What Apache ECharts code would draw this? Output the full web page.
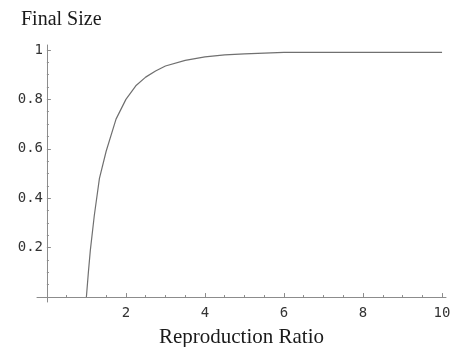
<!DOCTYPE html>
<html>
<head>
<meta charset="utf-8">
<script src="https://cdn.jsdelivr.net/npm/echarts@6/dist/echarts.min.js"></script>
<style>html,body{margin:0;padding:0;background:#fff}#c{width:454px;height:347px}</style>
</head>
<body>
<div id="c"></div>
<script>
// Data
var ratioValues = [1, 1.05, 1.1, 1.2, 1.33, 1.5, 1.75, 2, 2.25, 2.5, 2.75, 3, 3.5, 4, 4.5, 5, 6, 7, 8, 9, 10];
var finalSizeValues = [0, 0.1, 0.19, 0.33, 0.48, 0.59, 0.72, 0.80, 0.855, 0.89, 0.915, 0.935, 0.958, 0.972, 0.98, 0.984, 0.99, 0.99, 0.99, 0.99, 0.99];
var xTickLabels = [2, 4, 6, 8, 10];
var xMinorTicks = [0.5, 1, 1.5, 2.5, 3, 3.5, 4.5, 5, 5.5, 6.5, 7, 7.5, 8.5, 9, 9.5];
var yTickLabels = [0.2, 0.4, 0.6, 0.8, 1];
var yMinorTicks = [0.05, 0.1, 0.15, 0.25, 0.3, 0.35, 0.45, 0.5, 0.55, 0.65, 0.7, 0.75, 0.85, 0.9, 0.95];
var titleText = 'Final Size';
var xName = 'Reproduction Ratio';

var data = ratioValues.map(function (x, i) { return [x, finalSizeValues[i]]; });
var axisColor = '#8c8c8c';
var labelFont = { fontFamily: 'DejaVu Sans Mono', fontSize: 14, color: '#333333' };

var chart = echarts.init(document.getElementById('c'), null, { renderer: 'canvas' });
chart.setOption({
  animation: false,
  backgroundColor: '#ffffff',
  title: {
    text: titleText, left: 21, top: 10, padding: 0,
    textStyle: { fontFamily: 'Liberation Serif', fontSize: 20, fontWeight: 'normal', color: '#1a1a1a' }
  },
  grid: { left: 37, right: 8, top: 45, bottom: 45, containLabel: false, outerBoundsMode: 'none' },
  xAxis: [{
    type: 'value', position: 'bottom', min: -0.25, max: 10.1,
    name: xName, nameLocation: 'middle', nameGap: 25,
    nameTextStyle: { fontFamily: 'Liberation Serif', fontSize: 21, color: '#1a1a1a' },
    axisLine: { onZero: true, lineStyle: { color: axisColor, width: 1 } },
    axisTick: { inside: true, length: 4, customValues: xTickLabels, lineStyle: { color: axisColor } },
    axisLabel: Object.assign({ customValues: xTickLabels, margin: 4 }, labelFont),
    splitLine: { show: false }
  }, {
    type: 'value', position: 'bottom', min: -0.25, max: 10.1,
    axisLine: { onZero: true, lineStyle: { color: axisColor, opacity: 0 } },
    axisTick: { inside: true, length: 2, customValues: xMinorTicks, lineStyle: { color: axisColor } },
    axisLabel: { show: false },
    splitLine: { show: false }
  }],
  yAxis: [{
    type: 'value', position: 'left', min: -0.02, max: 1.02,
    axisLine: { show: true, onZero: true, lineStyle: { color: axisColor, width: 1 } },
    axisTick: { show: true, inside: true, length: 4, customValues: yTickLabels, lineStyle: { color: axisColor } },
    axisLabel: Object.assign({
      customValues: yTickLabels, margin: -6,
      formatter: function (v) { return Math.abs(v - 1) < 1e-9 ? '1' : v.toFixed(1); }
    }, labelFont),
    splitLine: { show: false }
  }, {
    type: 'value', position: 'left', min: -0.02, max: 1.02,
    axisLine: { show: true, onZero: true, lineStyle: { color: axisColor, opacity: 0 } },
    axisTick: { show: true, inside: true, length: 2, customValues: yMinorTicks, lineStyle: { color: axisColor } },
    axisLabel: { show: false },
    splitLine: { show: false }
  }],
  series: [{
    type: 'line', xAxisIndex: 0, yAxisIndex: 0, data: data,
    showSymbol: false, smooth: false,
    lineStyle: { color: '#707070', width: 1.2 }
  }]
});
</script>
</body>
</html>
